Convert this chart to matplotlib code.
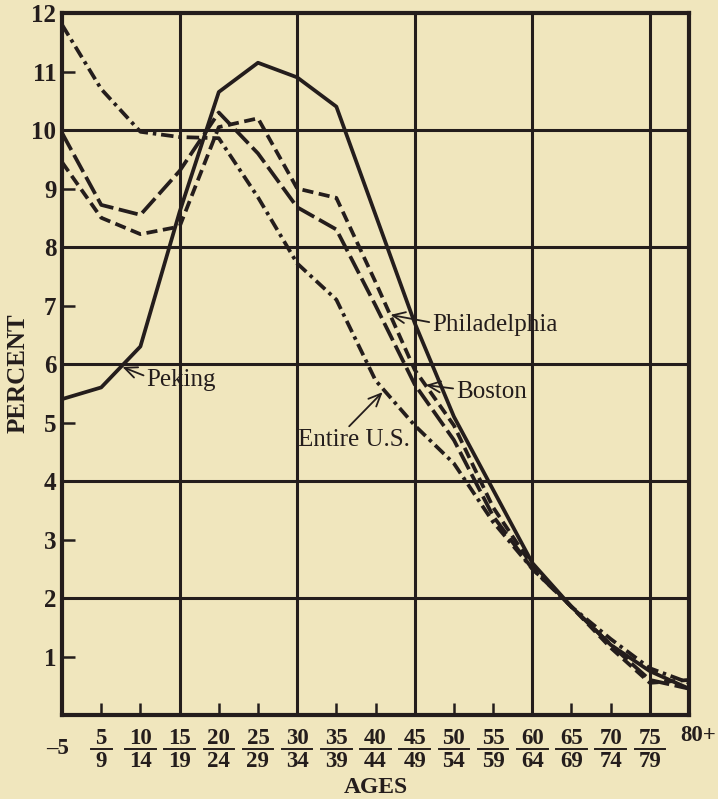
"""Age distribution: Peking compared with American cities."""
import matplotlib
matplotlib.use('Agg')
import matplotlib.pyplot as plt
from matplotlib.lines import Line2D

# age groups, "low/high" where the label is written as a fraction
age_labels = ['–5', '5/9', '10/14', '15/19', '20/24', '25/29', '30/34',
              '35/39', '40/44', '45/49', '50/54', '55/59', '60/64',
              '65/69', '70/74', '75/79', '80+']

# percent of population in each age group
peking = [5.4, 5.6, 6.3, 8.6, 10.65, 11.15, 10.9, 10.4, 8.55, 6.7, 5.1,
          3.85, 2.6, 1.85, 1.2, 0.75, 0.45]
philadelphia = [9.45, 8.5, 8.22, 8.35, 10.05, 10.2, 9.0, 8.84, 7.4, 5.9,
                4.95, 3.55, 2.55, 1.85, 1.15, 0.55, 0.6]
boston = [9.95, 8.72, 8.55, 9.3, 10.3, 9.6, 8.68, 8.3, 7.0, 5.65, 4.7,
          3.4, 2.5, 1.85, 1.2, 0.6, 0.45]
entire_us = [11.8, 10.7, 9.97, 9.88, 9.86, 8.85, 7.72, 7.1, 5.72, 4.95,
             4.3, 3.3, 2.5, 1.85, 1.3, 0.8, 0.55]

BG = '#f0e6bd'
INK = '#241d1c'

plt.rcParams['font.family'] = ['Liberation Serif', 'DejaVu Serif']
plt.rcParams['lines.scale_dashes'] = False

fig = plt.figure(figsize=(7.18, 7.99), dpi=100, facecolor=BG)
ax = fig.add_axes([0.0864, 0.1051, 0.8733, 0.8786], facecolor=BG)

x = list(range(len(age_labels)))
ax.set_xlim(0, len(age_labels) - 1)
ax.set_ylim(0, 12)

# heavy grid: every 2 percent, every third age group
for v in range(2, 12, 2):
    ax.axhline(v, color=INK, lw=2.2, zorder=1)
for c in range(3, len(age_labels) - 1, 3):
    ax.axvline(c, color=INK, lw=2.2, zorder=1)

lw = 2.7
ax.plot(x, peking, color=INK, lw=lw, zorder=3)
ax.plot(x, philadelphia, color=INK, lw=lw, dashes=(8, 4), zorder=3)
ax.plot(x, boston, color=INK, lw=lw, dashes=(14, 4), zorder=3)
ax.plot(x, entire_us, color=INK, lw=lw, dashes=(9, 3.5, 2.5, 3.5), zorder=3)

for sp in ax.spines.values():
    sp.set_linewidth(3)
    sp.set_color(INK)
    sp.set_zorder(4)

ax.set_yticks(range(1, 13))
ax.set_yticklabels([str(v) for v in range(1, 13)], fontsize=18,
                   fontweight='bold', color=INK)
ax.tick_params(axis='y', direction='in', length=9.5, width=1.8,
               colors=INK, pad=4)
ax.set_xticks(x[1:-1])
ax.set_xticklabels([])
ax.tick_params(axis='x', direction='in', length=8.5, width=1.8, colors=INK)

# fraction style age labels
xt = ax.get_xaxis_transform()
for i, lab in enumerate(age_labels):
    if '/' in lab:
        lo, hi = lab.split('/')
        ax.text(i, -0.034, lo, transform=xt, ha='center', va='center',
                fontsize=16.5, fontweight='bold', color=INK)
        ax.text(i, -0.0655, hi, transform=xt, ha='center', va='center',
                fontsize=16.5, fontweight='bold', color=INK)
        half = 0.15 + 0.12 * len(hi)
        ax.add_line(Line2D([i - half, i + half], [-0.049, -0.049],
                           transform=xt, color=INK, lw=1.4, clip_on=False))
    elif i == 0:
        ax.text(i + 0.18, -0.047, lab, transform=xt, ha='right',
                va='center', fontsize=16.5, fontweight='bold', color=INK)
    else:
        ax.text(i - 0.23, -0.029, lab, transform=xt, ha='left',
                va='center', fontsize=16.5, fontweight='bold', color=INK)

ax.text(0.5, -0.1026, 'AGES', transform=ax.transAxes, ha='center',
        va='center', fontsize=17, fontweight='bold', color=INK)
ax.text(-0.07, 0.487, 'PERCENT', transform=ax.transAxes, rotation=90,
        ha='center', va='center', fontsize=18, fontweight='bold', color=INK)

arrow = dict(arrowstyle='->,head_length=0.5,head_width=0.22', lw=1.3,
             color=INK, shrinkA=0, shrinkB=0)
labels = [
    ('Peking', (1.54, 5.95), (2.15, 5.73), 'left', (0, 0.65)),
    ('Philadelphia', (8.38, 6.84), (9.44, 6.67), 'left', (0, 0.6)),
    ('Boston', (9.28, 5.64), (10.05, 5.52), 'left', (0, 0.65)),
    ('Entire U.S.', (8.18, 5.52), (6.03, 4.70), 'left', (0.43, 1.0)),
]
for name, tip, pos, ha, rel in labels:
    ax.annotate(name, xy=tip, xytext=pos, ha=ha, va='center', fontsize=18,
                color=INK, zorder=5,
                arrowprops=dict(arrow, relpos=rel))

fig.savefig('out.png', dpi=100, facecolor=BG)
